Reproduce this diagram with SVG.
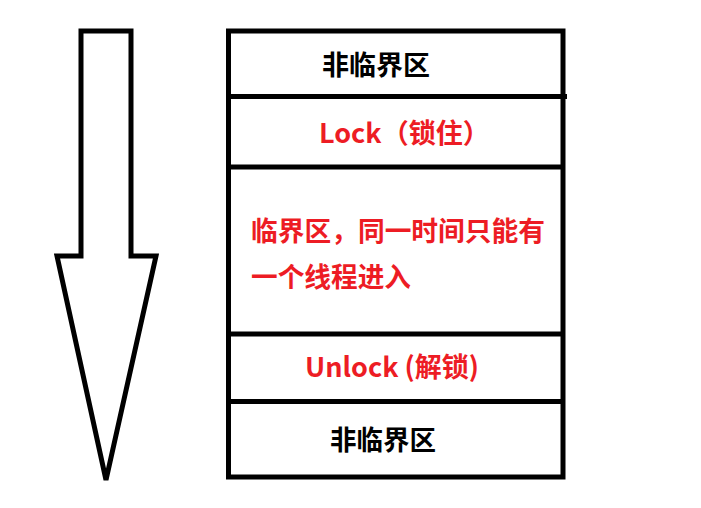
<svg xmlns="http://www.w3.org/2000/svg" width="701" height="508" viewBox="0 0 701 508">
<style>
.ln{stroke:#000;stroke-width:5;fill:none}
.t{font-family:"Noto Sans CJK SC","Microsoft YaHei",sans-serif;font-weight:bold;font-size:27px}
.blk{fill:#000}
.red{fill:#ed1c24}
</style>
<rect width="701" height="508" fill="#fff"/>
<g id="arrow">
<path class="ln" stroke-linejoin="miter" d="M81,31 H131 V256 H156 L106,480 L57,256 H81 Z"/>
</g>
<g id="connectors">
<line class="ln" x1="226" y1="96.5" x2="567" y2="96.5"/>
<line class="ln" x1="226" y1="167" x2="565" y2="167"/>
<line class="ln" x1="226" y1="334" x2="565" y2="334"/>
<line class="ln" x1="226" y1="401.5" x2="565" y2="401.5"/>
</g>
<g id="stack">
<rect class="ln" x="228.5" y="31" width="334.5" height="446"/>
</g>
<g id="n1"><text class="t blk" x="322" y="75" textLength="108" lengthAdjust="spacingAndGlyphs">非临界区</text></g>
<g id="n2"><text class="t red" x="319" y="143">Lock（锁住）</text></g>
<g id="n3"><text class="t red" x="251" y="241" textLength="294" lengthAdjust="spacingAndGlyphs">临界区，同一时间只能有</text><text class="t red" x="251" y="287" textLength="160" lengthAdjust="spacingAndGlyphs">一个线程进入</text></g>
<g id="n4"><text class="t red" x="305" y="377" textLength="174" lengthAdjust="spacingAndGlyphs">Unlock (解锁)</text></g>
<g id="n5"><text class="t blk" x="330" y="450" textLength="106" lengthAdjust="spacingAndGlyphs">非临界区</text></g>
</svg>
